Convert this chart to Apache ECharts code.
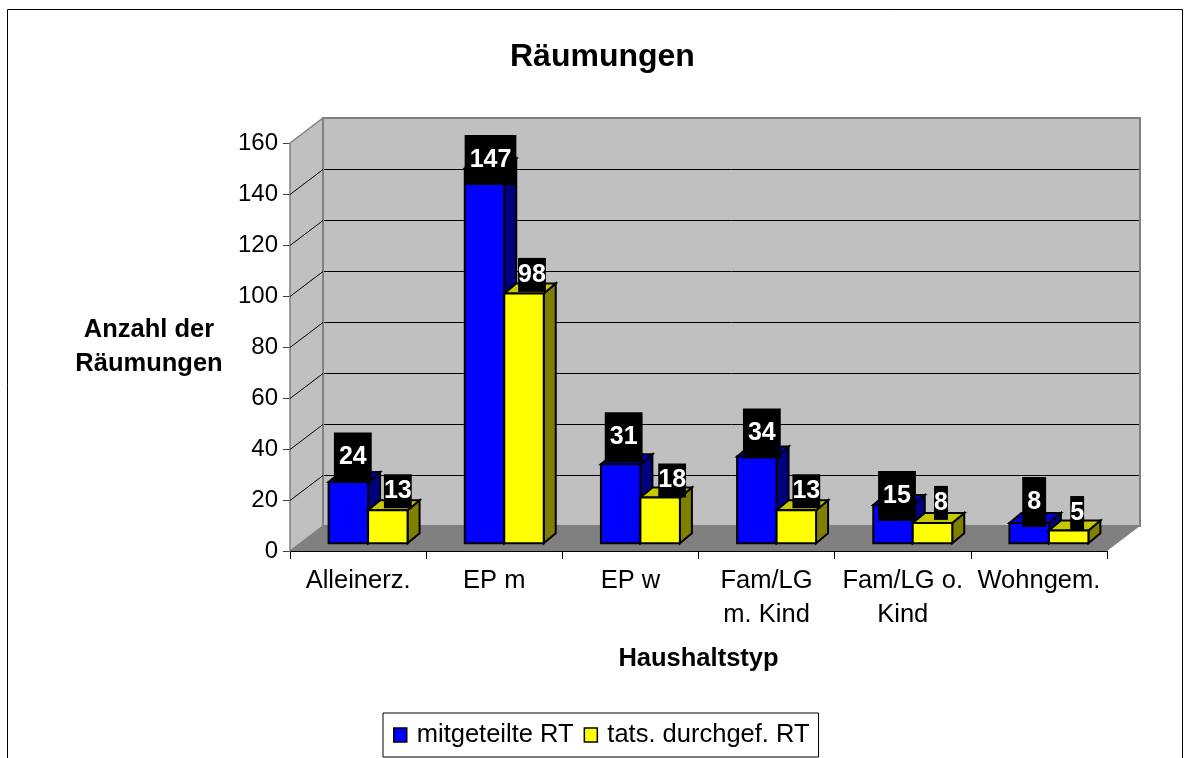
<!DOCTYPE html>
<html><head><meta charset="utf-8">
<style>html,body{margin:0;padding:0;background:#fff;overflow:hidden}#c{width:1190px;height:758px}</style>
<script src="https://cdn.jsdelivr.net/npm/echarts@6/dist/echarts.min.js"></script></head>
<body><div id="c"></div>
<script>
const categories = ['Alleinerz.', 'EP m', 'EP w', 'Fam/LG\nm. Kind', 'Fam/LG o.\nKind', 'Wohngem.'];
const mitgeteilt = [24, 147, 31, 34, 15, 8];
const durchgefuehrt = [13, 98, 18, 13, 8, 5];
const yTicks = [0, 20, 40, 60, 80, 100, 120, 140, 160];
// hand-placed data label nudges from the source chart (pixels from the bar's top centre)
const nudgeBlueX = [4.5, 6, 3, 5, 4, 5];
const nudgeBlueY = [-24.5, -8.5, -27, -23, -9, -21];
const nudgeYellowX = [10, 8, 12, 10, 8.5, 8.5];
const nudgeYellowY = [-19, -18.5, -17, -19, -20, -17.5];

const FONT = 'Liberation Sans, Arial, sans-serif';
const WALL_DX = 33, WALL_DY = -25, BAR_DX = 12, BAR_DY = -10, BAR_LIFT = 7.7, BAR_SHIFT = 10, BAR_FRAC = 0.29;
const poly = (pts, fill, stroke, lw, z2) => ({type:'polygon', z2:z2||0, shape:{points:pts},
  style:{fill:fill, stroke:stroke||null, lineWidth:lw||0}});
const line = (x1,y1,x2,y2,stroke,lw) => ({type:'line', shape:{x1,y1,x2,y2}, style:{stroke, lineWidth:lw||1}});

function renderWalls(params, api){
  const o = api.coord([0,0]), band = api.size([1,0])[0];
  const top = api.coord([0,160])[1];
  const L = o[0]-band/2, R = L+band*categories.length, B = o[1];
  return {type:'group', children:[
    poly([[L,B],[L+WALL_DX,B+WALL_DY],[L+WALL_DX,top+WALL_DY],[L,top]], '#C0C0C0', '#808080', 1.5),
    poly([[L+WALL_DX,B+WALL_DY],[R+WALL_DX,B+WALL_DY],[R+WALL_DX,top+WALL_DY],[L+WALL_DX,top+WALL_DY]], '#C0C0C0', '#808080', 2),
    poly([[L,B],[R,B],[R+WALL_DX,B+WALL_DY],[L+WALL_DX,B+WALL_DY]], '#808080', null, 0)
  ]};
}
function renderGrid(params, api){
  const v = api.value(0), p = api.coord([0,v]), band = api.size([1,0])[0];
  const L = p[0]-band/2, R = L+band*categories.length, y = Math.round(p[1])+0.5;
  return {type:'group', children:[
    line(L,y,L+WALL_DX,y+WALL_DY,'#000',1),
    line(L+WALL_DX+1,y+WALL_DY,R+WALL_DX-1,y+WALL_DY,'#000',1)
  ]};
}
function barRenderer(side, front, topC, sideC){
  return function(params, api){
    const i = api.value(0), v = api.value(1);
    const band = api.size([1,0])[0], w = band*BAR_FRAC;
    const c0 = api.coord([i,0]), c1 = api.coord([i,v]);
    const mid = c0[0]+BAR_SHIFT;
    const x0 = side<0 ? mid-w : mid, x1 = x0+w;
    const yb = c0[1]-BAR_LIFT, yt = c1[1]-BAR_LIFT;
    return {type:'group', children:[
      poly([[x1,yb],[x1+BAR_DX,yb+BAR_DY],[x1+BAR_DX,yt+BAR_DY],[x1,yt]], sideC, '#000', 2),
      poly([[x0,yt],[x1,yt],[x1+BAR_DX,yt+BAR_DY],[x0+BAR_DX,yt+BAR_DY]], topC, '#000', 2),
      poly([[x0,yb],[x1,yb],[x1,yt],[x0,yt]], front, '#000', 2)
    ]};
  };
}
function labelRenderer(side, nx, ny, pad){
  return function(params, api){
    const i = api.value(0), v = api.value(1);
    const band = api.size([1,0])[0], w = band*BAR_FRAC;
    const c0 = api.coord([i,0]), c1 = api.coord([i,v]);
    const cx = c0[0]+BAR_SHIFT+side*w/2+nx[i], cy = c1[1]-BAR_LIFT+ny[i];
    return {type:'text', x:cx, y:cy, style:{text:String(v), font:'bold 25px '+FONT, fill:'#fff',
      align:'center', verticalAlign:'middle', backgroundColor:'#000', padding:pad}};
  };
}
const rows = a => a.map((v,i)=>[i,v]);
const chart = echarts.init(document.getElementById('c'), null, {renderer:'canvas'});
chart.setOption({
  animation:false, backgroundColor:'#fff',
  title:{text:'Räumungen', left:510, top:41, padding:0,
    textStyle:{fontFamily:FONT, fontWeight:'bold', fontSize:32, color:'#000'}},
  graphic:[{type:'rect', silent:true, z:-1, shape:{x:7.5,y:9.5,width:1175,height:800},
    style:{fill:'none', stroke:'#000', lineWidth:1}}],
  grid:{left:290, right:83, top:143, bottom:207, containLabel:false},
  legend:{show:true, left:383, top:713, orient:'horizontal', padding:[9,9,9,10], itemGap:10,
    backgroundColor:'#fff', borderColor:'#000', borderWidth:1, itemWidth:13, itemHeight:14,
    textStyle:{color:'#000', fontFamily:FONT, fontSize:25.5, padding:[2,0,0,5]},
    data:[
      {name:'mitgeteilte RT', icon:'rect', itemStyle:{color:'#0000FF', borderColor:'#000', borderWidth:1.5}},
      {name:'tats. durchgef. RT', icon:'rect', itemStyle:{color:'#FFFF00', borderColor:'#000', borderWidth:1.5}}
    ]},
  xAxis:{type:'category', data:categories, boundaryGap:true,
    name:'Haushaltstyp', nameLocation:'middle', nameGap:95,
    nameTextStyle:{color:'#000', fontFamily:FONT, fontSize:25.5, fontWeight:'bold'},
    axisLine:{lineStyle:{color:'#000', width:1}}, axisTick:{show:true, length:8, alignWithLabel:false, lineStyle:{color:'#000'}},
    axisLabel:{interval:0, lineHeight:34, margin:13, color:'#000', fontFamily:FONT, fontSize:25.5}, splitLine:{show:false}},
  yAxis:{type:'value', min:0, max:160, interval:20,
    name:'Anzahl der\nRäumungen', nameLocation:'middle', nameRotate:0, nameGap:141,
    nameTextStyle:{color:'#000', fontFamily:FONT, fontSize:25.5, fontWeight:'bold', lineHeight:34, align:'center'},
    axisLine:{show:true, lineStyle:{color:'#404040', width:1}}, axisTick:{show:true, length:7, lineStyle:{color:'#404040'}},
    axisLabel:{margin:12, color:'#000', fontFamily:FONT, fontSize:24}, splitLine:{show:false}},
  series:[
    {type:'custom', name:'walls', z:1, silent:true, data:[[0]], renderItem:renderWalls},
    {type:'custom', name:'grid', z:2, silent:true, data:yTicks.slice(1,-1).map(v=>[v]), encode:{y:0}, renderItem:renderGrid},
    {type:'custom', name:'mitgeteilte RT', z:3, data:rows(mitgeteilt), encode:{x:0,y:1}, itemStyle:{color:'#0000FF'},
      renderItem:barRenderer(-1,'#0000FF','#0000C8','#000080')},
    {type:'custom', name:'tats. durchgef. RT', z:4, data:rows(durchgefuehrt), encode:{x:0,y:1}, itemStyle:{color:'#FFFF00'},
      renderItem:barRenderer(1,'#FFFF00','#C8C800','#808000')},
    {type:'custom', name:'labelsA', z:5, silent:true, data:rows(mitgeteilt), encode:{x:0,y:1}, renderItem:labelRenderer(-1,nudgeBlueX,nudgeBlueY,[12.5,5])},
    {type:'custom', name:'labelsB', z:6, silent:true, data:rows(durchgefuehrt), encode:{x:0,y:1}, renderItem:labelRenderer(1,nudgeYellowX,nudgeYellowY,[4.5,0])}
  ]
});
</script></body></html>
